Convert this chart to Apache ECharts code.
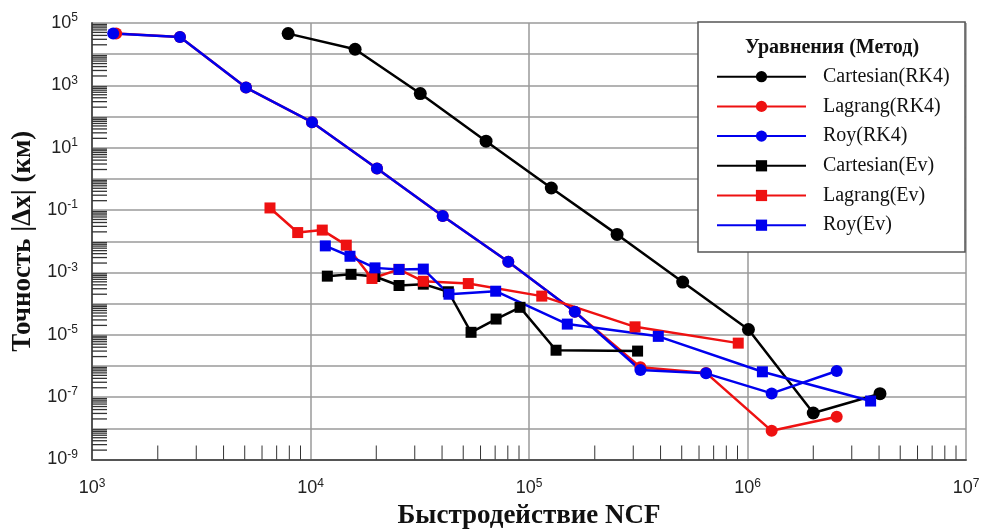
<!DOCTYPE html>
<html>
<head>
<meta charset="utf-8">
<script src="https://cdn.jsdelivr.net/npm/echarts@6/dist/echarts.min.js"></script>
<style>html,body{margin:0;padding:0;background:#fff}#c{width:982px;height:530px}</style>
</head>
<body>
<div id="c"></div>
<script>
// ---- data ----
const seriesNames = ['Cartesian(RK4)', 'Lagrang(RK4)', 'Roy(RK4)', 'Cartesian(Ev)', 'Lagrang(Ev)', 'Roy(Ev)'];

const cartRK4X = [7900, 16000, 31800, 63600, 126500, 253000, 505000, 1010000, 2000000, 4040000];
const cartRK4Y = [45700, 14400, 546, 16.2, 0.51, 0.0166, 4.9e-4, 1.48e-5, 3.1e-8, 1.29e-7];

const lagRK4X = [1290, 2527, 5067, 10160, 20150, 40270, 80400, 162000, 323600, 646000, 1290000, 2560000];
const lagRK4Y = [45700, 35600, 850, 66, 2.15, 0.065, 0.0022, 5.5e-5, 9.1e-7, 6.0e-7, 8.3e-9, 2.35e-8];

const royRK4X = [1250, 2527, 5067, 10160, 20150, 40270, 80400, 162000, 323600, 646000, 1290000, 2560000];
const royRK4Y = [45700, 35600, 850, 66, 2.15, 0.065, 0.0022, 5.5e-5, 7.4e-7, 5.8e-7, 1.32e-7, 6.9e-7];

const cartEvX = [11940, 15330, 19700, 25420, 32830, 42740, 54300, 70700, 91000, 133000, 314000];
const cartEvY = [7.6e-4, 8.7e-4, 7.4e-4, 3.8e-4, 4.2e-4, 2.4e-4, 1.2e-5, 3.2e-5, 7.6e-5, 3.2e-6, 3.0e-6];

const lagEvX = [6525, 8738, 11320, 14580, 19110, 25420, 32830, 52740, 114400, 305700, 907000];
const lagEvY = [0.117, 0.019, 0.0228, 0.0075, 6.4e-4, 1.25e-3, 5.2e-4, 4.4e-4, 1.74e-4, 1.8e-5, 5.4e-6];

const royEvX = [11690, 15160, 19730, 25420, 32830, 43030, 70400, 149700, 390600, 1170000, 3660000];
const royEvY = [7.1e-3, 3.3e-3, 1.4e-3, 1.25e-3, 1.28e-3, 2.0e-4, 2.5e-4, 2.2e-5, 8.9e-6, 6.5e-7, 7.5e-8];

// axis extents & minor tick layout
const xDecades = [1e3, 1e4, 1e5, 1e6];
const yDecades = [1e-9, 1e-8, 1e-7, 1e-6, 1e-5, 1e-4, 1e-3, 1e-2, 1e-1, 1, 10, 100, 1e3, 1e4];
const minorMults = [2, 3, 4, 5, 6, 7, 8, 9];
const yLabelExponents = [-9, -7, -5, -3, -1, 1, 3, 5];

const xName = 'Быстродействие NCF';
const yName = 'Точность |Δx| (км)';
const legendTitle = 'Уравнения (Метод)';

// ---- build ----
const pair = (xs, ys) => xs.map((x, i) => [x, ys[i]]);
const BLACK = '#000000', RED = '#ee1111', BLUE = '#0000ee';
const SERIF = '"Liberation Serif", "Times New Roman", serif';
const SANS = '"Liberation Sans", Arial, sans-serif';

function mk(name, data, color, symbol, size) {
  return {
    name, type: 'line', data, symbol, symbolSize: size,
    lineStyle: { color, width: 2.5 },
    itemStyle: { color },
    showAllSymbol: true, animation: false, z: 3
  };
}

const minorData = [];
xDecades.forEach(d => minorMults.forEach(m => minorData.push([d * m, 1e-9, 0])));
yDecades.forEach(d => minorMults.forEach(m => minorData.push([1e3, d * m, 1])));

const expOf = v => Math.round(Math.log10(v));
const supFmt = v => '10{s|' + expOf(v) + '}';
const ySupFmt = v => (yLabelExponents.indexOf(expOf(v)) >= 0 ? supFmt(v) : '');
const labelRich = {
  s: { fontSize: 12, fontFamily: SANS, color: '#222', padding: [0, 0, 10, 0] }
};

const chart = echarts.init(document.getElementById('c'), null, { renderer: 'canvas' });
chart.setOption({
  animation: false,
  backgroundColor: '#fff',
  grid: { left: 92, right: 16, top: 23, bottom: 70.5, containLabel: false, outerBoundsMode: 'none' },
  xAxis: {
    type: 'log', logBase: 10, min: 1e3, max: 1e7, interval: 1,
    name: xName, nameLocation: 'middle', nameGap: 42,
    nameTextStyle: { fontFamily: SERIF, fontWeight: 'bold', fontSize: 27, color: '#111' },
    axisLine: { show: true, lineStyle: { color: '#555', width: 2 } },
    axisTick: { show: false },
    splitLine: { show: true, lineStyle: { color: '#9a9a9a', width: 1.5 } },
    axisLabel: {
      formatter: supFmt, rich: labelRich, margin: 18, showMinLabel: true, showMaxLabel: true,
      fontSize: 18, fontFamily: SANS, color: '#222'
    }
  },
  yAxis: {
    type: 'log', logBase: 10, min: 1e-9, max: 1e5, interval: 1,
    name: yName, nameLocation: 'middle', nameGap: 44, nameRotate: 90,
    nameTextStyle: { fontFamily: SERIF, fontWeight: 'bold', fontSize: 27, color: '#111' },
    axisLine: { show: true, lineStyle: { color: '#555', width: 2 } },
    axisTick: { show: false },
    splitLine: { show: true, lineStyle: { color: '#9a9a9a', width: 1.5 } },
    axisLabel: {
      formatter: ySupFmt, rich: labelRich, margin: 14, showMinLabel: true, showMaxLabel: true,
      fontSize: 18, fontFamily: SANS, color: '#222'
    }
  },
  legend: {
    data: seriesNames, orient: 'vertical', left: 716, top: 66.7, padding: 0,
    itemWidth: 89, itemHeight: 14, itemGap: 9.7, z: 20,
    textStyle: { fontFamily: SERIF, fontSize: 20, color: '#111', lineHeight: 20, padding: [0, 0, 0, 12] }
  },
  graphic: [
    { type: 'rect', z: 10, shape: { x: 698, y: 22, width: 267, height: 230 },
      style: { fill: '#fff', stroke: '#555', lineWidth: 1.5 } },
    { type: 'text', z: 21, x: 832, y: 48,
      style: { text: legendTitle, textAlign: 'center', textVerticalAlign: 'middle',
        font: 'bold 20px ' + SERIF, fill: '#111' } }
  ],
  series: [
    mk(seriesNames[0], pair(cartRK4X, cartRK4Y), BLACK, 'circle', 13),
    mk(seriesNames[1], pair(lagRK4X, lagRK4Y), RED, 'circle', 12),
    mk(seriesNames[2], pair(royRK4X, royRK4Y), BLUE, 'circle', 12),
    mk(seriesNames[3], pair(cartEvX, cartEvY), BLACK, 'rect', 11),
    mk(seriesNames[4], pair(lagEvX, lagEvY), RED, 'rect', 11),
    mk(seriesNames[5], pair(royEvX, royEvY), BLUE, 'rect', 11),
    {
      name: 'minorTicks', type: 'custom', data: minorData, silent: true, z: 1, clip: false,
      renderItem: function (params, api) {
        const p = api.coord([api.value(0), api.value(1)]);
        const horiz = api.value(2) === 1;
        return {
          type: 'line',
          shape: horiz ? { x1: p[0], y1: p[1], x2: p[0] + 15, y2: p[1] }
                       : { x1: p[0], y1: p[1], x2: p[0], y2: p[1] - 14 },
          style: { stroke: '#333', lineWidth: horiz ? 1.3 : 1 }
        };
      }
    }
  ]
});
</script>
</body>
</html>
